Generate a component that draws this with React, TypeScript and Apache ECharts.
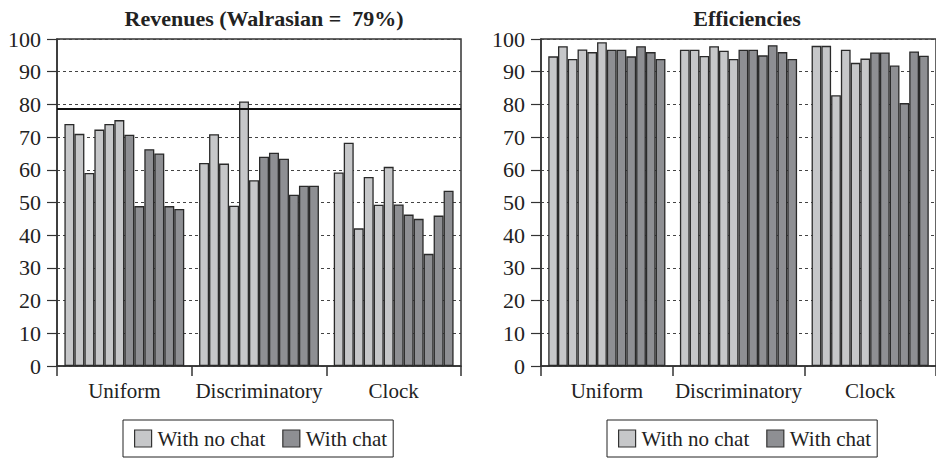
import React, { useEffect, useRef } from "react";
import * as echarts from "echarts";

const categories = ["Uniform", "Discriminatory", "Clock"];
const legendNames = ["With no chat", "With chat"];
const yTicks = [0, 10, 20, 30, 40, 50, 60, 70, 80, 90, 100];

// Revenues (% of maximum), six sessions per treatment
const revenueNoChat = [
  [74, 71, 59, 72.3, 74, 75.2],
  [62.1, 70.9, 61.9, 49, 80.9, 56.8],
  [59.2, 68.3, 42.1, 57.8, 49.3, 60.9],
];
const revenueChat = [
  [70.7, 48.9, 66.3, 65, 48.9, 48],
  [64, 65.2, 63.4, 52.4, 55.1, 55.1],
  [49.4, 46.3, 45, 34.3, 46, 53.6],
];
const walrasian = 78.7;

// Efficiencies (%)
const efficiencyNoChat = [
  [94.7, 97.8, 93.9, 96.8, 96, 99],
  [96.7, 96.7, 94.8, 97.8, 96.4, 93.9],
  [97.9, 97.9, 82.8, 96.7, 92.7, 94],
];
const efficiencyChat = [
  [96.7, 96.7, 94.7, 97.8, 96, 93.9],
  [96.7, 96.7, 95, 98.1, 96, 93.9],
  [95.9, 95.9, 91.9, 80.4, 96.2, 94.9],
];

const LIGHT = "#c6c7c9";
const DARK = "#8e8f93";
const EDGE = "#2a2a2a";
const FONT = "'Liberation Serif', 'Times New Roman', serif";

function buildSeries(
  noChat: number[][],
  chat: number[][],
  axisIndex: number,
  withLine: boolean
) {
  const out: any[] = [];
  const mk = (name: string, color: string, vals: number[]) => ({
    type: "bar",
    name,
    xAxisIndex: axisIndex,
    yAxisIndex: axisIndex,
    data: vals,
    barGap: "0%",
    barCategoryGap: "11%",
    itemStyle: { color, borderColor: EDGE, borderWidth: 1.3 },
    emphasis: { disabled: true },
  });
  for (let i = 0; i < 6; i++) {
    out.push(mk(legendNames[0], LIGHT, categories.map((_, c) => noChat[c][i])));
  }
  for (let i = 0; i < 6; i++) {
    out.push(mk(legendNames[1], DARK, categories.map((_, c) => chat[c][i])));
  }
  if (withLine) {
    out[out.length - 1].markLine = {
      silent: true,
      symbol: ["none", "none"],
      label: { show: false },
      lineStyle: { color: "#111", width: 2, type: "solid" },
      data: [{ yAxis: walrasian }],
    };
  }
  return out;
}

export default function App() {
  const ref = useRef<HTMLDivElement>(null);
  useEffect(() => {
    if (!ref.current) return;
    const chart = echarts.init(ref.current, undefined, { renderer: "svg" });
    const grids = [
      { left: 57, right: 475, top: 39, bottom: 93 },
      { left: 541, right: -8, top: 39, bottom: 93 },
    ];
    const xAxis = grids.map((_, i) => ({
      type: "category",
      gridIndex: i,
      data: categories,
      axisLine: { show: true, lineStyle: { color: "#333", width: 1.5 } },
      axisTick: { show: true, length: 10, inside: false, lineStyle: { color: "#333", width: 1.5 } },
      axisLabel: { color: "#222", fontFamily: FONT, fontSize: 21, margin: 14, interval: 0 },
    }));
    const yAxis = grids.map((_, i) => ({
      type: "value",
      gridIndex: i,
      min: 0,
      max: 100,
      interval: 10,
      axisLine: { show: true, lineStyle: { color: "#333", width: 1.5 } },
      axisTick: { show: true, length: 10, inside: false, lineStyle: { color: "#333", width: 1.2 } },
      axisLabel: {
        color: "#222",
        fontFamily: FONT,
        fontSize: 22,
        margin: 16,
        formatter: (v: number) => (yTicks.includes(v) ? String(v) : ""),
      },
      splitLine: { show: true, lineStyle: { color: "#444", width: 1, type: [3, 3] } },
    }));
    const legendCommon = {
      data: legendNames,
      orient: "horizontal",
      top: 420,
      icon: "rect",
      itemWidth: 17,
      itemHeight: 17,
      itemGap: 17,
      padding: [8, 6, 8, 11],
      borderColor: "#222",
      borderWidth: 1,
      backgroundColor: "#fff",
      selectedMode: false,
      itemStyle: { borderColor: "#333", borderWidth: 1.2 },
      textStyle: { fontFamily: FONT, fontSize: 21, color: "#222", padding: [0, 0, 0, 1] },
    };
    chart.setOption({
      animation: false,
      backgroundColor: "#fff",
      title: [
        {
          text: "Revenues (Walrasian =  79%)",
          left: 259,
          textAlign: "center",
          top: 2,
          textStyle: { fontFamily: FONT, fontSize: 22, fontWeight: "bold", color: "#222" },
        },
        {
          text: "Efficiencies",
          left: 742,
          textAlign: "center",
          top: 2,
          textStyle: { fontFamily: FONT, fontSize: 22, fontWeight: "bold", color: "#222" },
        },
      ],
      legend: [
        { ...legendCommon, left: 123 },
        { ...legendCommon, left: 607 },
      ],
      grid: grids.map((g) => ({ ...g, show: true, borderColor: "#333", borderWidth: 1.5, backgroundColor: "transparent" })),
      xAxis,
      yAxis,
      series: [
        ...buildSeries(revenueNoChat, revenueChat, 0, true),
        ...buildSeries(efficiencyNoChat, efficiencyChat, 1, false),
      ],
    });
    return () => chart.dispose();
  }, []);
  return (
    <div
      ref={ref}
      style={{ position: "absolute", left: 0, top: 0, width: 936, height: 459 }}
    />
  );
}
